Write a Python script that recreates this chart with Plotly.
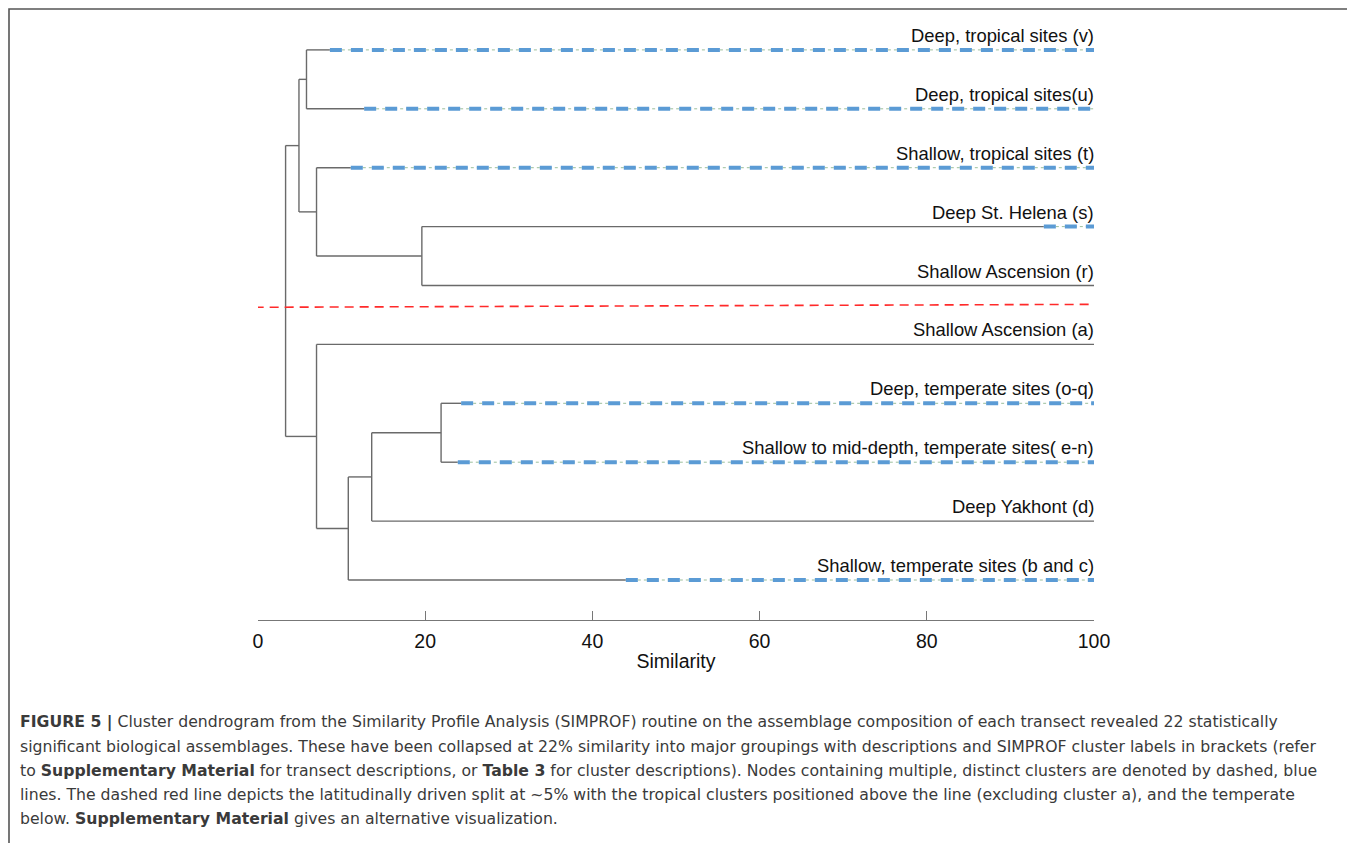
import plotly.graph_objects as go

# ---------------- data ----------------
leaf_ids = ["v", "u", "t", "s", "r", "a", "oq", "en", "d", "bc"]
leaf_labels = [
    "Deep, tropical sites (v)",
    "Deep, tropical sites(u)",
    "Shallow, tropical sites (t)",
    "Deep St. Helena (s)",
    "Shallow Ascension (r)",
    "Shallow Ascension (a)",
    "Deep, temperate sites (o-q)",
    "Shallow to mid-depth, temperate sites( e-n)",
    "Deep Yakhont (d)",
    "Shallow, temperate sites (b and c)",
]
leaf_pos = [10, 9, 8, 7, 6, 5, 4, 3, 2, 1]
# similarity at which blue dashed part starts (None = solid)
dash_start = [8.6, 12.7, 11.1, 94.0, None, None, 24.3, 23.9, None, 44.0]

merge_a = ["v", "s", "t", "n1", "oq", "n5", "n6", "a", "n4"]
merge_b = ["u", "r", "n2", "n3", "en", "d", "bc", "n7", "n8"]
merge_sim = [5.8, 19.6, 7.0, 4.9, 21.9, 13.6, 10.8, 7.0, 3.3]
merge_names = ["n1", "n2", "n3", "n4", "n5", "n6", "n7", "n8", "n9"]

split_sim = [-0.4, 100.2]
split_pos = [5.63, 5.68]

x_ticks = [0, 20, 40, 60, 80, 100]

caption_lines = [
    "<b>FIGURE 5 |</b> Cluster dendrogram from the Similarity Profile Analysis (SIMPROF) routine on the assemblage composition of each transect revealed 22 statistically",
    "significant biological assemblages. These have been collapsed at 22% similarity into major groupings with descriptions and SIMPROF cluster labels in brackets (refer",
    "to <b>Supplementary Material</b> for transect descriptions, or <b>Table 3</b> for cluster descriptions). Nodes containing multiple, distinct clusters are denoted by dashed, blue",
    "lines. The dashed red line depicts the latitudinally driven split at ~5% with the tropical clusters positioned above the line (excluding cluster a), and the temperate",
    "below. <b>Supplementary Material</b> gives an alternative visualization.",
]

# ---------------- layout geometry (page has an 8px body margin) ----------------
OFF = 8
W, H = 1355 - OFF, 843 - OFF
L = 258 - OFF
R = W - (1094 - OFF)
T = 20 - OFF
B = H - (620 - OFF)
PW, PH = W - L - R, H - T - B


def px_to_paper_x(px):
    return (px - OFF - L) / PW


def px_to_paper_y(py):
    return (H - B - (py - OFF)) / PH


GRAY = "#6a6a6a"
BLUE = "#5b9bd5"
LABEL_FONT = "Liberation Sans, Arial"

# ---------------- build dendrogram segments ----------------
node_x = {}
node_y = {}
for lid, p in zip(leaf_ids, leaf_pos):
    node_x[lid] = 100.0
    node_y[lid] = p
parent_sim = {}
for a, b, s, n in zip(merge_a, merge_b, merge_sim, merge_names):
    parent_sim[a] = s
    parent_sim[b] = s
    node_y[n] = (node_y[a] + node_y[b]) / 2
    node_x[n] = s

gx, gy = [], []
for a, b, s in zip(merge_a, merge_b, merge_sim):
    gx += [s, s, None]
    gy += [node_y[a], node_y[b], None]
for n in merge_names:
    if n in parent_sim:
        gx += [parent_sim[n], node_x[n], None]
        gy += [node_y[n], node_y[n], None]

bx, by = [], []
for lid, p, ds in zip(leaf_ids, leaf_pos, dash_start):
    start = parent_sim[lid]
    end = 100 if ds is None else ds
    gx += [start, end, None]
    gy += [p, p, None]
    if ds is not None:
        bx += [ds, 100, None]
        by += [p, p, None]

fig = go.Figure()
fig.add_trace(go.Scatter(x=gx, y=gy, mode="lines",
                         line=dict(color=GRAY, width=1.4),
                         hoverinfo="skip", showlegend=False))
fig.add_trace(go.Scatter(x=bx, y=by, mode="lines",
                         line=dict(color="#9cbf9c", width=1, dash="dot"),
                         hoverinfo="skip", showlegend=False))
fig.add_trace(go.Scatter(x=bx, y=by, mode="lines",
                         line=dict(color=BLUE, width=4, dash="12px,9px"),
                         hoverinfo="skip", showlegend=False))
fig.add_trace(go.Scatter(x=split_sim, y=split_pos, mode="lines",
                         line=dict(color="#ff2a2a", width=1.6, dash="9px,6px"),
                         hoverinfo="skip", showlegend=False))

annotations = []
for lab, p in zip(leaf_labels, leaf_pos):
    annotations.append(dict(x=100, y=p, xref="x", yref="y", text=lab,
                            showarrow=False, xanchor="right", yanchor="bottom",
                            xshift=2, yshift=2,
                            font=dict(size=18.4, color="#111111", family=LABEL_FONT)))

cap_y0 = 722
for i, line in enumerate(caption_lines):
    annotations.append(dict(x=px_to_paper_x(18), y=px_to_paper_y(cap_y0 + 24 * i),
                            xref="paper", yref="paper", text=line, showarrow=False,
                            xanchor="left", yanchor="middle",
                            font=dict(size=15.7, color="#3a3a3a", family="DejaVu Sans")))

shapes = [dict(type="rect", xref="paper", yref="paper",
               x0=px_to_paper_x(9), x1=px_to_paper_x(1420),
               y0=px_to_paper_y(900), y1=px_to_paper_y(9),
               line=dict(color="#555555", width=1.6), fillcolor="rgba(0,0,0,0)",
               layer="below")]

y_bottom = 1 - 40 / 58.9
y_top = 1 + 560 / 58.9

fig.update_layout(
    width=W, height=H, autosize=False,
    margin=dict(l=L, r=R, t=T, b=B, pad=0),
    paper_bgcolor="white", plot_bgcolor="white",
    annotations=annotations, shapes=shapes,
    xaxis=dict(range=[0, 100], showgrid=False, zeroline=False,
               showline=True, linecolor="#777777", linewidth=1.2,
               ticks="inside", ticklen=9, tickcolor="#777777", tickwidth=1.2,
               tickvals=x_ticks, ticktext=[str(t) for t in x_ticks],
               ticklabelstandoff=3,
               tickfont=dict(size=19.5, color="#111111", family=LABEL_FONT),
               title=dict(text="Similarity", standoff=3,
                          font=dict(size=19.5, color="#111111", family=LABEL_FONT))),
    yaxis=dict(range=[y_bottom, y_top], visible=False, showgrid=False, zeroline=False),
)

fig.write_html("out.html")
